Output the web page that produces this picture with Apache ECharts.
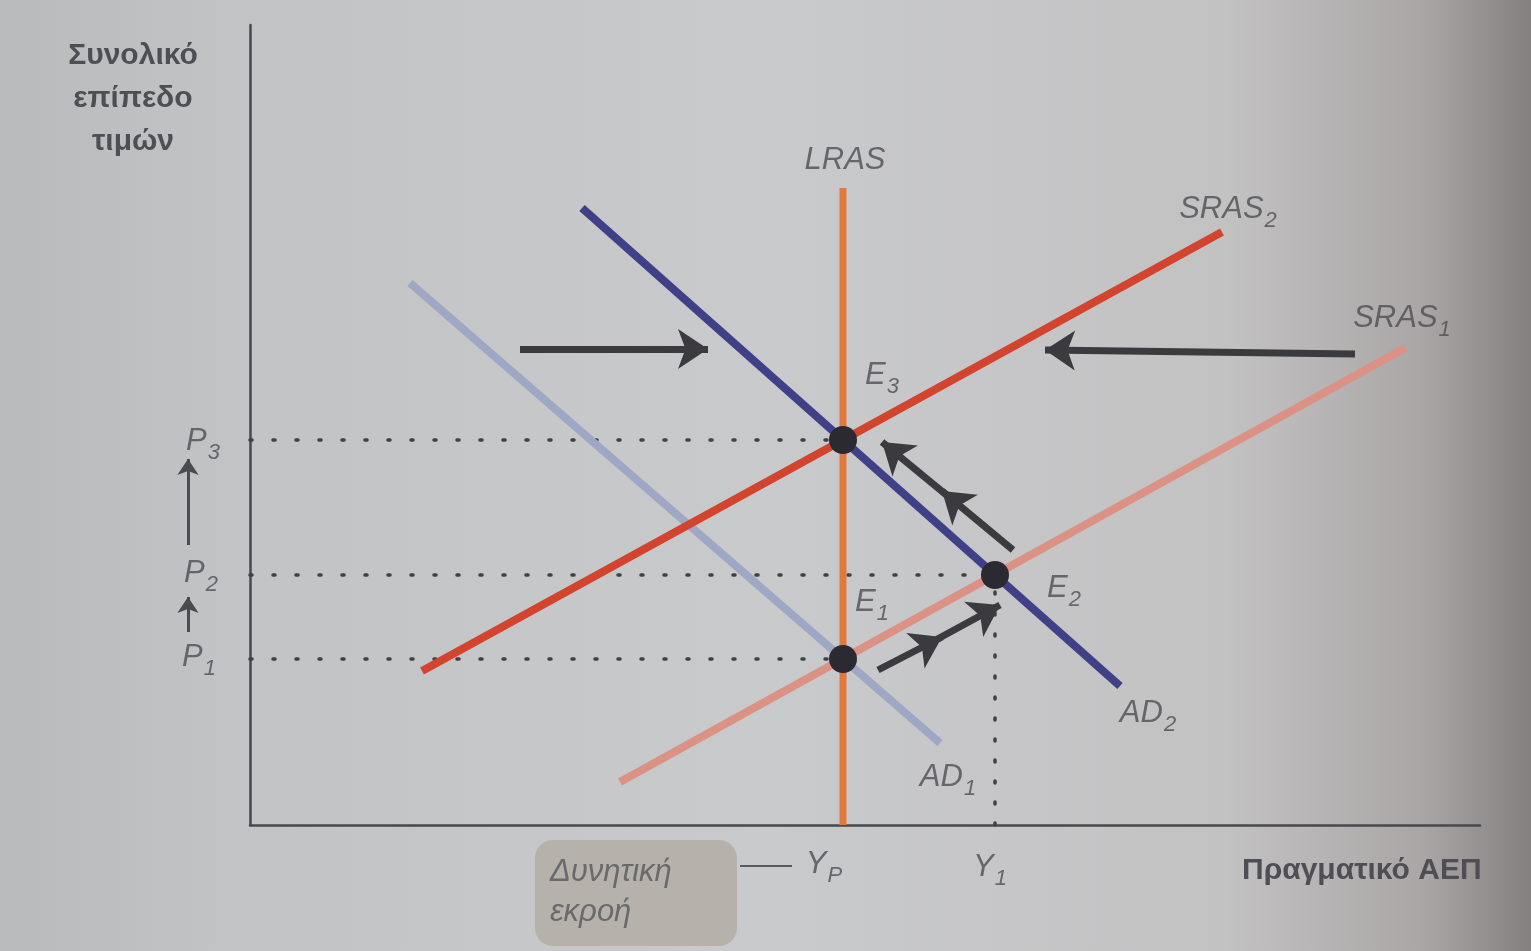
<!DOCTYPE html>
<html lang="el">
<head>
    <meta charset="UTF-8">
    <script src="https://cdn.jsdelivr.net/npm/echarts@6/dist/echarts.min.js"></script>
    <style>
        html, body { margin: 0; padding: 0; background: #c3c4c6; }
        #main { width: 1531px; height: 951px; }
    </style>
    <title>AD - AS</title>
</head>
<body>
<div id="main"></div>
<script type="text/javascript">
    // καμπύλες: [αρχή, τέλος] σε μονάδες διαγράμματος (x: 0-123, y: 0-80)
    var lras  = [[59.3, 0], [59.3, 63.7]];
    var sras1 = [[37, 4.3], [115.5, 47.7]];
    var sras2 = [[17.2, 15.4], [97.2, 59.3]];
    var ad1   = [[16, 54.2], [69, 8.2]];
    var ad2   = [[33.2, 61.7], [87, 13.9]];

    // σημεία ισορροπίας E1, E2, E3
    var eqX = [59.3, 74.5, 59.3];
    var eqY = [16.6, 25.0, 38.5];

    // επίπεδα τιμών P1, P2, P3 και Y1
    var priceLevels = [16.6, 25.0, 38.5];
    var priceEnds = [59.3, 74.5, 59.3];
    var y1Level = 74.5;

    // βέλη μετατόπισης
    var arrowLines = [
        [[27, 47.6], [45.8, 47.6]],
        [[110.5, 47.1], [79.5, 47.5]],
        [[76.3, 27.5], [69.2, 33.4]],
        [[70.5, 32.3], [63.2, 38.3]],
        [[62.8, 15.5], [69.2, 18.8]],
        [[68.2, 18.3], [75.0, 22.0]]
    ];
    // μικρά βέλη στον άξονα τιμών
    var axisArrows = [
        [[-6.2, 19.3], [-6.2, 22.8]],
        [[-6.2, 28.0], [-6.2, 36.6]]
    ];

    // ετικέτες
    var labelText = ['{b|LRAS}', '{b|SRAS}{s|2}', '{b|SRAS}{s|1}', '{b|E}{s|3}', '{b|E}{s|2}', '{b|E}{s|1}',
        '{b|AD}{s|2}', '{b|AD}{s|1}', '{b|P}{s|3}', '{b|P}{s|2}', '{b|P}{s|1}', '{b|Y}{s|P}', '{b|Y}{s|1}'];
    var labelX = [59.5, 97.8, 115.2, 63.2, 81.4, 62.2, 89.8, 69.8, -4.7, -4.9, -5.1, 57.4, 74.0];
    var labelY = [66.3, 61.2, 50.3, 44.6, 23.3, 21.9, 10.8, 4.4, 38.0, 24.8, 16.4, -4.3, -4.6];

    var FONT = 'Liberation Sans';
    var TXT = '#4d4d53';

    function segment(name, pts, color, width, z) {
        return {
            name: name,
            type: 'line',
            data: pts,
            symbol: 'none',
            z: z,
            silent: true,
            lineStyle: { color: color, width: width, cap: 'butt' }
        };
    }

    var chartDom = document.getElementById('main');
    var myChart = echarts.init(chartDom);
    var option;

    var dotted = [];
    for (var i = 0; i < priceLevels.length; i++) {
        dotted.push({
            type: 'line',
            data: [[0, priceLevels[i]], [priceEnds[i], priceLevels[i]]],
            symbol: 'none',
            z: 1,
            lineStyle: { color: '#3f3f44', width: 3.5, type: [2, 21], cap: 'round' }
        });
    }
    dotted.push({
        type: 'line',
        data: [[y1Level, 0], [y1Level, eqY[1]]],
        symbol: 'none',
        z: 1,
        lineStyle: { color: '#3f3f44', width: 3.5, type: [2, 19], cap: 'round' }
    });

    var labelData = [];
    for (var k = 0; k < labelText.length; k++) {
        labelData.push({ value: [labelX[k], labelY[k]], label: { formatter: labelText[k] } });
    }

    option = {
        backgroundColor: {
            type: 'linear', x: 0, y: 0, x2: 1, y2: 0,
            colorStops: [
                { offset: 0, color: '#b9babc' },
                { offset: 0.15, color: '#c2c3c5' },
                { offset: 0.5, color: '#c9cacc' },
                { offset: 0.8, color: '#c3c2c3' },
                { offset: 0.93, color: '#aaa6a6' },
                { offset: 1, color: '#858080' }
            ]
        },
        animation: false,
        grid: { left: 250, right: 51, top: 25, bottom: 126 },
        xAxis: {
            type: 'value', min: 0, max: 123,
            axisLine: { lineStyle: { color: '#48484d', width: 2.5 } },
            axisTick: { show: false }, axisLabel: { show: false }, splitLine: { show: false }
        },
        yAxis: {
            type: 'value', min: 0, max: 80,
            axisLine: { show: true, lineStyle: { color: '#48484d', width: 2.5 } },
            axisTick: { show: false }, axisLabel: { show: false }, splitLine: { show: false }
        },
        graphic: [
            {
                type: 'text', x: 133, y: 34,
                style: {
                    text: 'Συνολικό\nεπίπεδο\nτιμών', fill: '#4e4e54',
                    font: 'bold 30px "' + FONT + '"', lineHeight: 43, align: 'center'
                },
                z: 10
            },
            {
                type: 'text', x: 1242, y: 856,
                style: { text: 'Πραγματικό ΑΕΠ', fill: '#4e4e54', font: 'bold 30px "' + FONT + '"' },
                z: 10
            },
            {
                type: 'rect', shape: { x: 535, y: 840, width: 202, height: 106, r: 18 },
                style: { fill: '#b6b2ab' }, z: 5
            },
            {
                type: 'text', x: 550, y: 852,
                style: {
                    text: 'Δυνητική\nεκροή', fill: '#6a6a6c',
                    font: 'italic 31px "' + FONT + '"', lineHeight: 40
                },
                z: 10
            },
            {
                type: 'line', shape: { x1: 740, y1: 866, x2: 792, y2: 866 },
                style: { stroke: '#5a5a5e', lineWidth: 2 }, z: 10
            }
        ],
        series: dotted.concat([
            segment('AD1', ad1, '#9ea8c4', 8, 2),
            segment('SRAS1', sras1, '#dc9185', 8, 3),
            segment('SRAS2', sras2, '#d3442e', 8, 4),
            segment('LRAS', lras, '#e2783c', 7, 5),
            segment('AD2', ad2, '#3f4088', 8, 6),
            {
                type: 'scatter',
                data: eqX.map(function (x, i) { return [x, eqY[i]]; }),
                symbolSize: 28,
                z: 8,
                itemStyle: { color: '#2b2a33', opacity: 1 }
            },
            {
                type: 'lines',
                coordinateSystem: 'cartesian2d',
                clip: false,
                z: 7,
                symbol: ['none', 'arrow'],
                symbolSize: [24, 30],
                lineStyle: { color: '#3b3b3f', width: 7, opacity: 1, curveness: 0 },
                data: arrowLines.map(function (c) { return { coords: c }; })
            },
            {
                type: 'lines',
                coordinateSystem: 'cartesian2d',
                clip: false,
                z: 7,
                symbol: ['none', 'arrow'],
                symbolSize: [13, 16],
                lineStyle: { color: '#4a4a4f', width: 3, opacity: 1, curveness: 0 },
                data: axisArrows.map(function (c) { return { coords: c }; })
            },
            {
                type: 'scatter',
                clip: false,
                z: 9,
                symbolSize: 1,
                data: labelData,
                itemStyle: { color: 'rgba(0,0,0,0)' },
                label: {
                    show: true,
                    position: 'inside',
                    rich: {
                        b: { fontFamily: FONT, fontStyle: 'italic', fontSize: 31, color: TXT, verticalAlign: 'top', lineHeight: 34 },
                        s: { fontFamily: FONT, fontStyle: 'italic', fontSize: 22, color: TXT, verticalAlign: 'top', padding: [16, 0, 0, 1] }
                    }
                }
            }
        ])
    };

    option && myChart.setOption(option);
</script>
</body>
</html>
